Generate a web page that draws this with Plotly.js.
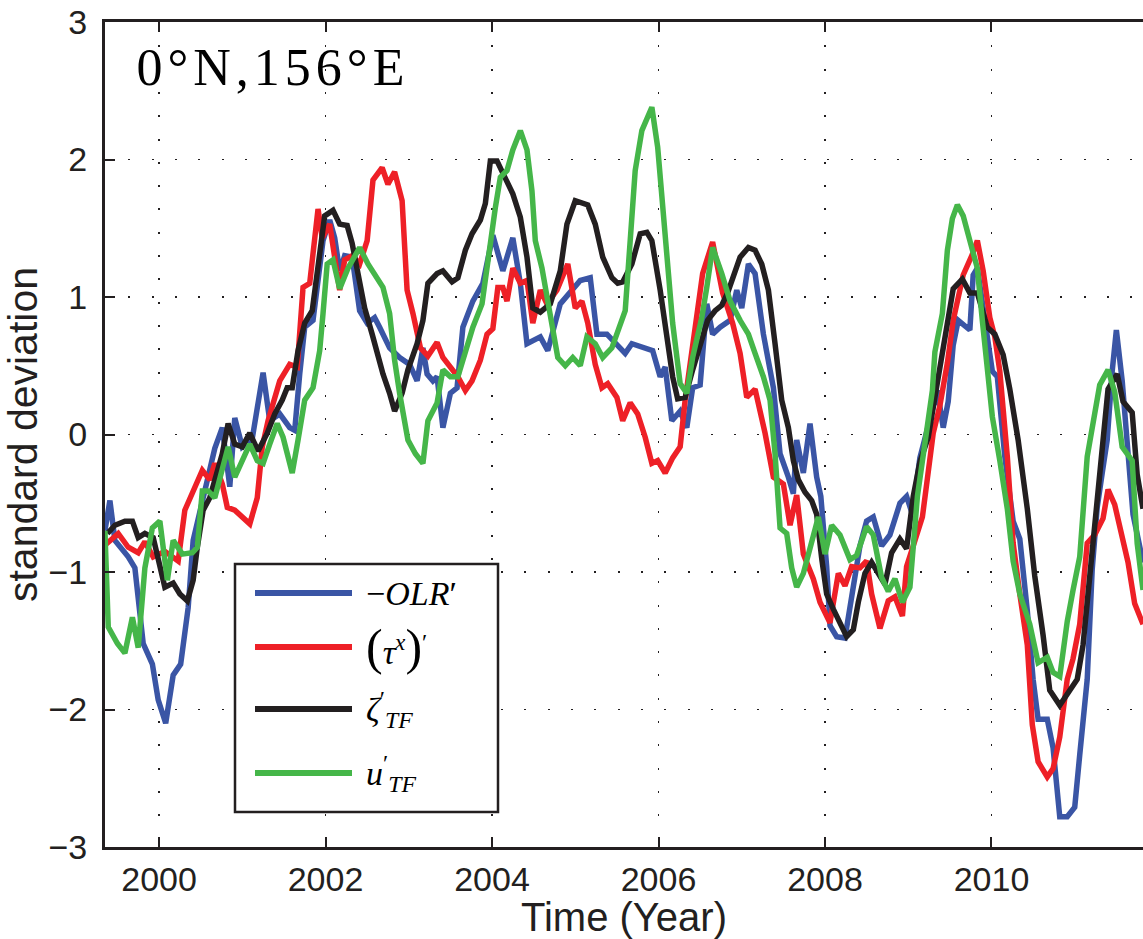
<!DOCTYPE html>
<html>
<head>
<meta charset="utf-8">
<script src="https://cdn.plot.ly/plotly-3.0.1.min.js"></script>
<style>
  html, body { margin: 0; padding: 0; background: #fff; overflow: hidden; }
  #chart { width: 1143px; height: 939px; }
</style>
</head>
<body>
<div id="chart"></div>
<script>
// Normalised anomalies at 0°N, 156°E, as [decimal year, standard deviations]
const olrPoints = [
  [1999.35,-0.70],[1999.41,-0.48],[1999.47,-0.77],[1999.63,-0.89],[1999.71,-0.97],[1999.81,-1.52],
  [1999.92,-1.67],[1999.99,-1.93],[2000.08,-2.10],[2000.17,-1.75],[2000.26,-1.67],[2000.35,-1.26],
  [2000.41,-0.77],[2000.53,-0.45],[2000.67,-0.10],[2000.76,0.05],[2000.85,-0.38],[2000.91,0.12],
  [2001.00,-0.09],[2001.12,-0.03],[2001.25,0.45],[2001.33,0.10],[2001.45,0.15],[2001.57,0.05],
  [2001.63,0.03],[2001.69,0.44],[2001.75,0.78],[2001.85,0.83],[2001.97,1.41],[2002.05,1.56],
  [2002.11,1.43],[2002.17,1.19],[2002.23,1.30],[2002.32,1.29],[2002.41,0.90],[2002.50,0.81],
  [2002.59,0.85],[2002.65,0.78],[2002.77,0.63],[2002.89,0.56],[2003.01,0.51],[2003.10,0.39],
  [2003.17,0.63],[2003.22,0.44],[2003.29,0.39],[2003.34,0.42],[2003.41,0.05],[2003.50,0.30],
  [2003.58,0.34],[2003.65,0.78],[2003.77,0.97],[2003.89,1.10],[2004.01,1.45],[2004.13,1.19],
  [2004.25,1.43],[2004.34,1.10],[2004.42,0.66],[2004.58,0.71],[2004.67,0.61],[2004.82,0.95],
  [2004.94,1.03],[2005.06,1.12],[2005.18,1.14],[2005.26,0.73],[2005.38,0.73],[2005.50,0.66],
  [2005.60,0.59],[2005.68,0.66],[2005.81,0.63],[2005.93,0.61],[2006.02,0.42],[2006.08,0.49],
  [2006.16,0.10],[2006.26,0.17],[2006.34,0.05],[2006.41,0.34],[2006.50,0.36],[2006.58,0.95],
  [2006.65,0.73],[2006.74,0.78],[2006.86,0.83],[2006.94,1.05],[2007.00,0.92],[2007.08,1.24],
  [2007.16,1.17],[2007.26,0.73],[2007.38,0.34],[2007.46,-0.14],[2007.56,-0.31],[2007.62,-0.43],
  [2007.66,-0.04],[2007.74,-0.28],[2007.82,0.08],[2007.90,-0.31],[2007.95,-0.45],[2008.02,-0.96],
  [2008.06,-1.39],[2008.14,-1.47],[2008.24,-1.48],[2008.34,-1.09],[2008.42,-0.81],[2008.50,-0.63],
  [2008.58,-0.60],[2008.68,-0.81],[2008.78,-0.73],[2008.90,-0.50],[2008.98,-0.45],[2009.05,-0.58],
  [2009.14,-0.17],[2009.26,0.11],[2009.35,0.32],[2009.42,0.05],[2009.48,0.24],[2009.54,0.65],
  [2009.60,0.83],[2009.74,0.76],[2009.78,1.16],[2009.83,1.21],[2009.95,0.66],[2010.01,0.46],
  [2010.07,0.42],[2010.16,-0.16],[2010.26,-0.63],[2010.34,-0.76],[2010.43,-1.28],[2010.50,-1.78],
  [2010.56,-2.07],[2010.67,-2.07],[2010.74,-2.28],[2010.82,-2.78],[2010.91,-2.78],[2011.00,-2.71],
  [2011.06,-2.33],[2011.15,-1.78],[2011.21,-0.98],[2011.27,-0.53],[2011.33,-0.28],[2011.39,-0.04],
  [2011.45,0.46],[2011.50,0.76],[2011.57,0.39],[2011.63,-0.09],[2011.70,-0.58],[2011.82,-0.93]
];

const tauPoints = [
  [1999.36,-0.80],[1999.51,-0.72],[1999.63,-0.82],[1999.75,-0.86],[1999.83,-0.78],[1999.93,-0.89],
  [2000.07,-0.85],[2000.23,-0.92],[2000.31,-0.55],[2000.43,-0.38],[2000.52,-0.26],[2000.61,-0.33],
  [2000.67,-0.21],[2000.76,-0.36],[2000.82,-0.53],[2000.91,-0.55],[2001.01,-0.61],[2001.09,-0.65],
  [2001.18,-0.46],[2001.24,-0.09],[2001.31,0.10],[2001.39,0.25],[2001.45,0.39],[2001.57,0.51],
  [2001.66,0.49],[2001.73,1.07],[2001.81,1.10],[2001.91,1.64],[2001.96,1.43],[2002.05,1.53],
  [2002.17,1.05],[2002.23,1.27],[2002.32,1.30],[2002.41,1.24],[2002.50,1.41],[2002.57,1.85],
  [2002.68,1.94],[2002.75,1.82],[2002.83,1.91],[2002.92,1.70],[2002.98,1.05],[2003.05,0.88],
  [2003.14,0.63],[2003.23,0.57],[2003.34,0.67],[2003.41,0.56],[2003.52,0.47],[2003.59,0.42],
  [2003.68,0.32],[2003.76,0.39],[2003.86,0.54],[2003.94,0.73],[2004.01,0.77],[2004.07,1.07],
  [2004.13,1.07],[2004.18,0.97],[2004.25,1.21],[2004.34,1.10],[2004.42,1.12],[2004.49,0.81],
  [2004.58,1.05],[2004.66,0.95],[2004.78,1.05],[2004.91,1.24],[2005.00,0.92],[2005.08,0.97],
  [2005.15,0.81],[2005.24,0.51],[2005.32,0.34],[2005.39,0.37],[2005.50,0.27],[2005.57,0.10],
  [2005.66,0.23],[2005.75,0.15],[2005.84,-0.02],[2005.92,-0.21],[2005.99,-0.19],[2006.08,-0.28],
  [2006.17,-0.17],[2006.26,-0.09],[2006.32,0.25],[2006.41,0.66],[2006.53,1.17],[2006.65,1.40],
  [2006.77,1.03],[2006.89,0.81],[2006.98,0.59],[2007.06,0.27],[2007.16,0.33],[2007.28,0.01],
  [2007.38,-0.31],[2007.50,-0.36],[2007.58,-0.66],[2007.66,-0.44],[2007.74,-0.87],[2007.86,-1.05],
  [2007.94,-1.22],[2008.06,-1.37],[2008.16,-1.01],[2008.24,-1.10],[2008.32,-0.96],[2008.42,-0.97],
  [2008.50,-0.92],[2008.56,-1.16],[2008.66,-1.41],[2008.76,-1.21],[2008.84,-1.18],[2008.93,-1.32],
  [2008.98,-0.96],[2009.06,-0.81],[2009.17,-0.60],[2009.23,-0.32],[2009.30,0.01],[2009.38,0.21],
  [2009.47,0.52],[2009.54,0.83],[2009.66,1.16],[2009.77,1.31],[2009.83,1.41],[2009.90,1.19],
  [2009.98,0.85],[2010.04,0.71],[2010.10,0.46],[2010.19,-0.16],[2010.26,-0.79],[2010.34,-1.16],
  [2010.43,-1.53],[2010.49,-2.11],[2010.56,-2.38],[2010.67,-2.49],[2010.74,-2.43],[2010.82,-2.20],
  [2010.91,-1.78],[2010.98,-1.63],[2011.06,-1.38],[2011.15,-0.79],[2011.24,-0.73],[2011.34,-0.61],
  [2011.40,-0.40],[2011.48,-0.51],[2011.57,-0.76],[2011.64,-0.93],[2011.72,-1.23],[2011.82,-1.38]
];

const zetaPoints = [
  [1999.38,-0.72],[1999.47,-0.66],[1999.59,-0.63],[1999.68,-0.63],[1999.75,-0.75],[1999.83,-0.72],
  [1999.93,-0.75],[1999.99,-0.92],[2000.07,-1.11],[2000.17,-1.08],[2000.25,-1.16],[2000.34,-1.21],
  [2000.41,-1.06],[2000.46,-0.82],[2000.53,-0.55],[2000.61,-0.46],[2000.70,-0.28],[2000.76,-0.14],
  [2000.83,0.08],[2000.91,-0.07],[2001.00,-0.09],[2001.09,0.01],[2001.19,-0.12],[2001.30,0.01],
  [2001.39,0.15],[2001.48,0.25],[2001.54,0.34],[2001.60,0.34],[2001.67,0.61],[2001.75,0.81],
  [2001.84,0.90],[2001.91,1.21],[2001.99,1.59],[2002.09,1.63],[2002.17,1.53],[2002.26,1.52],
  [2002.32,1.39],[2002.39,1.17],[2002.47,0.92],[2002.56,0.73],[2002.62,0.59],[2002.69,0.44],
  [2002.77,0.30],[2002.83,0.17],[2002.92,0.30],[2002.99,0.47],[2003.10,0.66],[2003.17,0.83],
  [2003.23,1.10],[2003.34,1.17],[2003.41,1.19],[2003.52,1.11],[2003.59,1.14],[2003.68,1.34],
  [2003.76,1.46],[2003.86,1.56],[2003.92,1.68],[2003.98,1.99],[2004.06,1.99],[2004.18,1.85],
  [2004.25,1.75],[2004.34,1.58],[2004.42,1.29],[2004.49,0.92],[2004.58,0.89],[2004.70,0.95],
  [2004.82,1.19],[2004.90,1.53],[2005.00,1.70],[2005.15,1.67],[2005.24,1.53],[2005.33,1.29],
  [2005.44,1.14],[2005.51,1.10],[2005.57,1.11],[2005.68,1.24],[2005.78,1.46],[2005.86,1.47],
  [2005.92,1.41],[2006.02,1.05],[2006.10,0.68],[2006.17,0.42],[2006.23,0.26],[2006.32,0.27],
  [2006.41,0.47],[2006.52,0.71],[2006.59,0.83],[2006.68,0.90],[2006.76,0.94],[2006.83,1.03],
  [2006.92,1.17],[2006.98,1.29],[2007.08,1.36],[2007.16,1.34],[2007.24,1.24],[2007.32,1.05],
  [2007.40,0.66],[2007.48,0.25],[2007.56,0.05],[2007.62,-0.19],[2007.68,-0.33],[2007.76,-0.42],
  [2007.84,-0.48],[2007.90,-0.58],[2007.96,-0.90],[2008.02,-1.16],[2008.10,-1.27],[2008.18,-1.37],
  [2008.26,-1.47],[2008.34,-1.42],[2008.40,-1.22],[2008.48,-1.01],[2008.56,-0.93],[2008.64,-1.01],
  [2008.72,-1.09],[2008.80,-0.86],[2008.90,-0.76],[2008.98,-0.83],[2009.06,-0.45],[2009.14,-0.20],
  [2009.24,-0.02],[2009.32,0.27],[2009.42,0.65],[2009.54,1.06],[2009.65,1.13],[2009.74,1.03],
  [2009.83,1.03],[2009.95,0.78],[2010.04,0.73],[2010.14,0.58],[2010.22,0.33],[2010.32,-0.04],
  [2010.43,-0.54],[2010.52,-1.03],[2010.62,-1.46],[2010.70,-1.86],[2010.82,-1.97],[2010.92,-1.88],
  [2011.03,-1.78],[2011.10,-1.53],[2011.18,-1.03],[2011.27,-0.54],[2011.34,-0.04],[2011.40,0.33],
  [2011.51,0.44],[2011.58,0.24],[2011.69,0.16],[2011.75,-0.29],[2011.82,-0.54]
];

const uPoints = [
  [1999.35,-0.70],[1999.39,-1.40],[1999.50,-1.52],[1999.59,-1.59],[1999.68,-1.33],[1999.75,-1.55],
  [1999.83,-0.97],[1999.92,-0.68],[2000.01,-0.63],[2000.10,-1.06],[2000.17,-0.77],[2000.28,-0.87],
  [2000.40,-0.86],[2000.46,-0.82],[2000.52,-0.41],[2000.59,-0.41],[2000.67,-0.46],[2000.76,-0.24],
  [2000.83,-0.09],[2000.91,-0.31],[2001.01,-0.17],[2001.09,-0.07],[2001.18,-0.19],[2001.25,-0.21],
  [2001.33,-0.07],[2001.42,0.08],[2001.49,-0.02],[2001.60,-0.28],[2001.67,-0.04],[2001.75,0.25],
  [2001.85,0.34],[2001.93,0.61],[2001.97,0.88],[2002.02,1.24],[2002.09,1.27],[2002.17,1.06],
  [2002.27,1.21],[2002.41,1.36],[2002.51,1.24],[2002.62,1.14],[2002.69,1.07],[2002.77,0.88],
  [2002.83,0.54],[2002.89,0.30],[2002.99,-0.04],[2003.08,-0.14],[2003.17,-0.21],[2003.23,0.10],
  [2003.34,0.23],[2003.41,0.47],[2003.50,0.42],[2003.59,0.42],[2003.70,0.63],[2003.77,0.78],
  [2003.88,0.95],[2003.95,1.29],[2004.04,1.65],[2004.10,1.87],[2004.18,1.92],[2004.25,2.07],
  [2004.34,2.21],[2004.42,2.07],[2004.48,1.77],[2004.52,1.41],[2004.60,1.21],[2004.67,0.97],
  [2004.73,0.76],[2004.79,0.56],[2004.88,0.50],[2004.97,0.56],[2005.06,0.50],[2005.14,0.71],
  [2005.24,0.66],[2005.33,0.56],[2005.44,0.63],[2005.54,0.81],[2005.60,0.90],[2005.66,1.41],
  [2005.72,1.92],[2005.80,2.21],[2005.92,2.38],[2005.99,2.09],[2006.05,1.65],[2006.11,1.17],
  [2006.17,0.81],[2006.26,0.37],[2006.34,0.30],[2006.41,0.56],[2006.52,0.85],[2006.58,1.07],
  [2006.65,1.36],[2006.76,1.17],[2006.86,0.97],[2006.98,0.83],[2007.08,0.73],[2007.16,0.59],
  [2007.26,0.42],[2007.34,0.25],[2007.40,-0.14],[2007.46,-0.68],[2007.54,-0.72],[2007.60,-0.97],
  [2007.66,-1.11],[2007.74,-1.01],[2007.82,-0.82],[2007.92,-0.60],[2008.00,-0.87],[2008.08,-0.66],
  [2008.18,-0.73],[2008.30,-0.91],[2008.38,-0.88],[2008.50,-0.67],[2008.58,-0.73],[2008.68,-1.04],
  [2008.76,-1.14],[2008.84,-1.05],[2008.93,-1.22],[2009.02,-1.11],[2009.11,-0.45],[2009.20,-0.04],
  [2009.29,0.32],[2009.32,0.60],[2009.41,0.88],[2009.47,1.34],[2009.53,1.57],[2009.59,1.67],
  [2009.66,1.59],[2009.74,1.41],[2009.83,1.21],[2009.89,0.83],[2009.95,0.44],[2010.01,0.13],
  [2010.10,-0.19],[2010.19,-0.54],[2010.26,-0.92],[2010.34,-1.16],[2010.46,-1.38],[2010.56,-1.66],
  [2010.67,-1.62],[2010.74,-1.73],[2010.82,-1.76],[2010.91,-1.36],[2010.98,-1.13],[2011.06,-0.89],
  [2011.15,-0.16],[2011.24,0.16],[2011.30,0.36],[2011.40,0.47],[2011.48,0.31],[2011.57,-0.09],
  [2011.69,-0.19],[2011.75,-0.79],[2011.82,-1.13]
];

// series labels, shown in the hand-built legend
const seriesNames = [
  '−<i>OLR</i>′',
  '<span style="font-size:50px">(</span><i>τ</i><sup><i>x</i></sup><span style="font-size:50px">)</span><sup>′</sup>',
  '<i>ζ</i><sup>′</sup><sub><i>TF</i></sub>',
  '<i>u</i><sup>′</sup><sub><i>TF</i></sub>'
];
const seriesColors = ['#3a55a5', '#ee2027', '#231f20', '#45b649'];
const seriesData = [olrPoints, tauPoints, zetaPoints, uPoints];
const yearTicks = [2000, 2002, 2004, 2006, 2008, 2010];
const valueTicks = [-3, -2, -1, 0, 1, 2, 3];
const siteLabel = '0°N,156°E';

// page geometry
const W = 1143, H = 939;
const M = { l: 105, r: 0, t: 22, b: 92 };
const plotW = W - M.l - M.r, plotH = H - M.t - M.b;
const toPaperX = p => (p - M.l) / plotW;
const toPaperY = p => (H - M.b - p) / plotH;

const ink = '#231f20';
const sans = 'Liberation Sans, Arial, Helvetica, sans-serif';
const serif = 'Liberation Serif, Times New Roman, serif';

const traces = seriesData.map((pts, i) => ({
  type: 'scatter',
  mode: 'lines',
  name: seriesNames[i],
  x: pts.map(p => p[0]),
  y: pts.map(p => p[1]),
  line: { color: seriesColors[i], width: 5.5 },
  hoverinfo: 'skip',
  showlegend: false
}));

// hand-built legend box, keys and labels
const legendBox = { left: 235, top: 564, right: 498, bottom: 812 };
const legendRows = [593, 647, 709, 773];
const keyLeft = 255, keyRight = 352, labelLeft = 364;

const shapes = [{
  type: 'rect', xref: 'paper', yref: 'paper', layer: 'above',
  x0: toPaperX(legendBox.left), x1: toPaperX(legendBox.right),
  y0: toPaperY(legendBox.bottom), y1: toPaperY(legendBox.top),
  fillcolor: '#ffffff', line: { color: ink, width: 2.5 }
}];
const annotations = [{
  xref: 'paper', yref: 'paper', x: toPaperX(157), y: toPaperY(67),
  xanchor: 'left', yanchor: 'middle', showarrow: false,
  text: siteLabel, font: { family: serif, size: 52, color: '#000' }
}];
legendRows.forEach((row, i) => {
  shapes.push({
    type: 'line', xref: 'paper', yref: 'paper', layer: 'above',
    x0: toPaperX(keyLeft), x1: toPaperX(keyRight),
    y0: toPaperY(row), y1: toPaperY(row),
    line: { color: seriesColors[i], width: 6 }
  });
  annotations.push({
    xref: 'paper', yref: 'paper', x: toPaperX(labelLeft), y: toPaperY(row),
    xanchor: 'left', yanchor: 'middle', showarrow: false,
    text: seriesNames[i], font: { family: serif, size: 34, color: '#000' }
  });
});

const gridDots = '2px,21.3px';

const layout = {
  width: W, height: H,
  margin: M,
  paper_bgcolor: '#ffffff', plot_bgcolor: '#ffffff',
  showlegend: false,
  font: { family: sans, color: ink },
  xaxis: {
    range: [1999.351, 2011.82],
    tickmode: 'array', tickvals: yearTicks, tickformat: 'd',
    ticks: 'inside', ticklen: 10, tickwidth: 2, tickcolor: ink,
    showline: true, linecolor: ink, linewidth: 3, mirror: 'ticks',
    showgrid: true, gridcolor: ink, gridwidth: 1.6, griddash: gridDots,
    zeroline: false,
    tickfont: { family: sans, size: 34, color: ink },
    ticklabelstandoff: 0,
    title: { text: 'Time (Year)', font: { family: sans, size: 40, color: ink }, standoff: 5 }
  },
  yaxis: {
    range: [-3, 3],
    tickmode: 'array', tickvals: valueTicks,
    ticks: 'inside', ticklen: 10, tickwidth: 2, tickcolor: ink,
    showline: true, linecolor: ink, linewidth: 3, mirror: false,
    showgrid: true, gridcolor: ink, gridwidth: 1.6, griddash: gridDots,
    zeroline: false,
    tickfont: { family: sans, size: 34, color: ink },
    ticklabelstandoff: 8,
    title: { text: 'standard deviation', font: { family: sans, size: 41, color: ink }, standoff: 2 }
  },
  shapes: shapes,
  annotations: annotations
};

Plotly.newPlot('chart', traces, layout, { staticPlot: true, displayModeBar: false }).then(gd => {
  // widen the spacing of the site label
  const site = gd.querySelector('.annotation[data-index="0"] .annotation-text');
  if (site) site.style.letterSpacing = '5px';
});
</script>
</body>
</html>
